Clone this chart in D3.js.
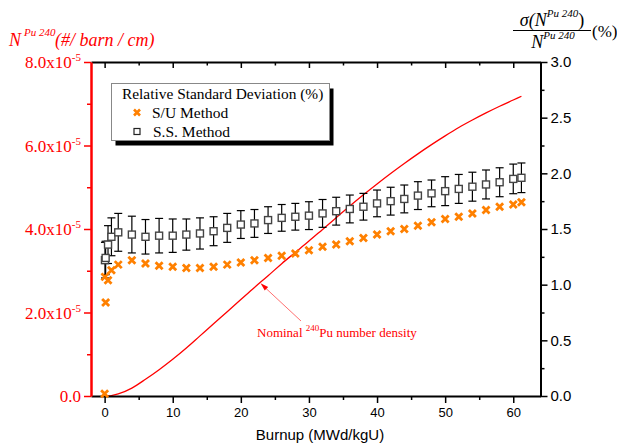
<!DOCTYPE html>
<html><head><meta charset="utf-8">
<script src="https://cdn.jsdelivr.net/npm/d3@7"></script>
<style>body{margin:0;background:#fff}svg{display:block}</style>
</head><body>
<svg id="c" width="617" height="446"></svg>
<script>
const burnup = [0, 0.05, 0.15, 0.5, 1, 2, 4, 6, 8, 10, 12, 14, 16, 18, 20, 22, 24, 26, 28, 30, 32, 34, 36, 38, 40, 42, 44, 46, 48, 50, 52, 54, 56, 58, 60, 61.2];
const suRSD = [0.02, 1.07, 0.84, 1.04, 1.13, 1.18, 1.22, 1.19, 1.17, 1.16, 1.15, 1.15, 1.16, 1.18, 1.20, 1.22, 1.24, 1.26, 1.28, 1.31, 1.34, 1.36, 1.39, 1.42, 1.45, 1.48, 1.50, 1.53, 1.56, 1.59, 1.61, 1.64, 1.67, 1.70, 1.72, 1.74];
const ssRSD = [null, 1.22, 1.24, 1.36, 1.43, 1.47, 1.45, 1.43, 1.44, 1.44, 1.45, 1.46, 1.48, 1.51, 1.54, 1.55, 1.58, 1.60, 1.61, 1.62, 1.64, 1.66, 1.68, 1.70, 1.73, 1.75, 1.77, 1.80, 1.82, 1.84, 1.86, 1.88, 1.90, 1.92, 1.95, 1.96];
const ssErr = [null, 0.16, 0.15, 0.17, 0.17, 0.17, 0.165, 0.155, 0.155, 0.15, 0.14, 0.14, 0.13, 0.13, 0.125, 0.125, 0.12, 0.12, 0.12, 0.125, 0.125, 0.125, 0.125, 0.12, 0.12, 0.125, 0.125, 0.125, 0.12, 0.13, 0.13, 0.13, 0.13, 0.13, 0.133, 0.133];
const nominalN = [0, 0, 0.0003e-5, 0.003e-5, 0.01e-5, 0.05e-5, 0.19e-5, 0.40e-5, 0.63e-5, 0.88e-5, 1.15e-5, 1.44e-5, 1.73e-5, 2.02e-5, 2.31e-5, 2.60e-5, 2.88e-5, 3.17e-5, 3.44e-5, 3.71e-5, 3.99e-5, 4.27e-5, 4.55e-5, 4.82e-5, 5.08e-5, 5.33e-5, 5.57e-5, 5.80e-5, 6.02e-5, 6.23e-5, 6.43e-5, 6.61e-5, 6.78e-5, 6.94e-5, 7.09e-5, 7.18e-5];
const xTicks = [0, 10, 20, 30, 40, 50, 60];
const xMinor = [5, 15, 25, 35, 45, 55];
const leftTicks = [0, 2e-5, 4e-5, 6e-5, 8e-5];
const leftMinor = [1e-5, 3e-5, 5e-5, 7e-5];
const rightTicks = [0, 0.5, 1.0, 1.5, 2.0, 2.5, 3.0];
const rightMinor = [0.25, 0.75, 1.25, 1.75, 2.25, 2.75];
const legendTitle = "Relative Standard Deviation (%)";
const seriesNames = ["S/U Method", "S.S. Method"];

const SERIF = "'Liberation Serif','Times New Roman',serif";
const SANS = "'Liberation Sans',Arial,sans-serif";
const RED = "#ff0000", ORANGE = "#ff8000";
const L = 91, R = 540.5, T = 62, B = 396;

const svg = d3.select("#c");
const x = d3.scaleLinear().domain([-2, 64]).range([L, R]);
const yL = d3.scaleLinear().domain([0, 8e-5]).range([B, T]);
const yR = d3.scaleLinear().domain([0, 3]).range([B, T]);

// nominal curve
const line = d3.line().x((d, i) => x(burnup[i])).y(d => yL(d)).curve(d3.curveMonotoneX);
svg.append("path").attr("d", line(nominalN)).attr("fill", "none").attr("stroke", RED).attr("stroke-width", 1.3);

function styleAxis(g, color, w) {
  g.select(".domain").attr("stroke", color).attr("stroke-width", w);
  g.selectAll(".tick line").attr("stroke", color).attr("stroke-width", 1.5);
}
// bottom
const gb = svg.append("g").attr("transform", `translate(0,${B})`)
  .call(d3.axisBottom(x).tickValues(xTicks).tickSize(7).tickSizeOuter(0).tickPadding(5));
styleAxis(gb, "#000", 2);
gb.selectAll("text").attr("font-family", SANS).attr("font-size", 13).attr("fill", "#000");
svg.append("g").attr("transform", `translate(0,${B})`)
  .call(d3.axisBottom(x).tickValues(xMinor).tickSize(4).tickFormat("").tickSizeOuter(0))
  .call(g => { g.select(".domain").remove(); g.selectAll("line").attr("stroke", "#000").attr("stroke-width", 1.5); });
// top
const gt = svg.append("g").attr("transform", `translate(0,${T})`)
  .call(d3.axisBottom(x).tickValues(xTicks).tickSize(6).tickFormat("").tickSizeOuter(0));
styleAxis(gt, "#000", 2);
svg.append("g").attr("transform", `translate(0,${T})`)
  .call(d3.axisBottom(x).tickValues(xMinor).tickSize(3.5).tickFormat("").tickSizeOuter(0))
  .call(g => { g.select(".domain").remove(); g.selectAll("line").attr("stroke", "#000").attr("stroke-width", 1.5); });
// right
const gr = svg.append("g").attr("transform", `translate(${R},0)`)
  .call(d3.axisRight(yR).tickValues(rightTicks).tickSize(7).tickSizeOuter(0).tickPadding(3).tickFormat(d3.format(".1f")));
styleAxis(gr, "#000", 2);
gr.selectAll("text").attr("font-family", SANS).attr("font-size", 15).attr("fill", "#000");
svg.append("g").attr("transform", `translate(${R},0)`)
  .call(d3.axisRight(yR).tickValues(rightMinor).tickSize(4).tickFormat("").tickSizeOuter(0))
  .call(g => { g.select(".domain").remove(); g.selectAll("line").attr("stroke", "#000").attr("stroke-width", 1.5); });

// error bars
const ss = burnup.map((b, i) => ({b, v: ssRSD[i], e: ssErr[i]})).filter(d => d.v != null);
const eb = svg.append("g").attr("stroke", "#000").attr("stroke-width", 1.2);
ss.forEach(d => {
  const xc = x(d.b), y1 = yR(d.v + d.e), y0 = yR(d.v - d.e);
  eb.append("line").attr("x1", xc).attr("x2", xc).attr("y1", y1).attr("y2", y0);
  eb.append("line").attr("x1", xc - 4).attr("x2", xc + 4).attr("y1", y1).attr("y2", y1);
  eb.append("line").attr("x1", xc - 4).attr("x2", xc + 4).attr("y1", y0).attr("y2", y0);
});
// squares
svg.append("g").selectAll("rect").data(ss).join("rect")
  .attr("x", d => x(d.b) - 3.5).attr("y", d => yR(d.v) - 3.5).attr("width", 7).attr("height", 7)
  .attr("fill", "#fff").attr("stroke", "#444").attr("stroke-width", 1.4);
// orange crosses
const cross = (s) => `M${-s},${-s}L${s},${s}M${-s},${s}L${s},${-s}`;
svg.append("g").selectAll("path").data(burnup.map((b, i) => ({b, v: suRSD[i]}))).join("path")
  .attr("transform", d => `translate(${x(d.b)},${yR(d.v)})`)
  .attr("d", cross(3.5)).attr("stroke", ORANGE).attr("stroke-width", 2.8).attr("fill", "none");

// left axis (red)
const gl = svg.append("g").attr("transform", `translate(${L},0)`)
  .call(d3.axisLeft(yL).tickValues(leftTicks).tickSize(7).tickSizeOuter(0).tickFormat(""));
styleAxis(gl, RED, 2.5);
svg.append("g").attr("transform", `translate(${L},0)`)
  .call(d3.axisLeft(yL).tickValues(leftMinor).tickSize(4).tickFormat("").tickSizeOuter(0))
  .call(g => { g.select(".domain").remove(); g.selectAll("line").attr("stroke", RED).attr("stroke-width", 1.5); });
leftTicks.forEach(v => {
  const t = svg.append("text").attr("x", 81).attr("y", yL(v) + 6).attr("text-anchor", "end")
    .attr("font-family", SERIF).attr("font-size", 17).attr("fill", RED);
  if (v === 0) { t.text("0.0"); }
  else {
    t.append("tspan").text((v / 1e-5).toFixed(1) + "x10");
    t.append("tspan").attr("dy", -7).attr("font-size", 11).text("-5");
  }
});

// left title
const lt = svg.append("text").attr("y", 46).attr("fill", RED).attr("font-family", SERIF)
  .attr("font-style", "italic").attr("font-size", 18);
lt.append("tspan").attr("x", 9).text("N");
lt.append("tspan").attr("x", 24).attr("dy", -10).attr("font-size", 11).text("Pu 240");
lt.append("tspan").attr("x", 55).attr("dy", 10).text("(#/ barn / cm)");

// right title (fraction)
const num = svg.append("text").attr("x", 552).attr("y", 26).attr("text-anchor", "middle")
  .attr("font-family", SERIF).attr("font-size", 18).attr("font-style", "italic").attr("fill", "#000");
num.append("tspan").text("σ(N");
num.append("tspan").attr("dy", -9).attr("font-size", 11).text("Pu 240");
num.append("tspan").attr("dy", 9).attr("font-style", "normal").text(")");
svg.append("line").attr("x1", 513).attr("x2", 591).attr("y1", 30.5).attr("y2", 30.5).attr("stroke", "#000").attr("stroke-width", 1);
const den = svg.append("text").attr("x", 553).attr("y", 48).attr("text-anchor", "middle")
  .attr("font-family", SERIF).attr("font-size", 18).attr("font-style", "italic").attr("fill", "#000");
den.append("tspan").text("N");
den.append("tspan").attr("dy", -9).attr("font-size", 11).text("Pu 240");
svg.append("text").attr("x", 592).attr("y", 37).attr("font-family", SERIF).attr("font-size", 17).attr("fill", "#000").text("(%)");

// x title
svg.append("text").attr("x", 320).attr("y", 440).attr("text-anchor", "middle")
  .attr("font-family", SANS).attr("font-size", 15).attr("fill", "#000").text("Burnup (MWd/kgU)");

// annotation
const ax = x(22.9), ay = yL(2.70e-5);
svg.append("line").attr("x1", 301).attr("y1", 321).attr("x2", ax + 2).attr("y2", ay + 2)
  .attr("stroke", RED).attr("stroke-width", 0.7).attr("opacity", 0.8);
const ang = Math.atan2(321 - ay, 301 - ax);
const hl = 8, hw = 2.5;
const p1 = [ax + Math.cos(ang) * hl - Math.sin(ang) * hw, ay + Math.sin(ang) * hl + Math.cos(ang) * hw];
const p2 = [ax + Math.cos(ang) * hl + Math.sin(ang) * hw, ay + Math.sin(ang) * hl - Math.cos(ang) * hw];
svg.append("path").attr("d", `M${ax},${ay}L${p1[0]},${p1[1]}L${p2[0]},${p2[1]}Z`).attr("fill", RED);
const an = svg.append("text").attr("x", 257).attr("y", 336.5).attr("font-family", SERIF).attr("font-size", 13).attr("fill", RED);
an.append("tspan").text("Nominal ");
an.append("tspan").attr("dy", -6).attr("font-size", 9).text("240");
an.append("tspan").attr("dy", 6).text("Pu number density");

// legend
svg.append("rect").attr("x", 115.5).attr("y", 88.5).attr("width", 218).attr("height", 57).attr("fill", "#000");
svg.append("rect").attr("x", 111.5).attr("y", 83.5).attr("width", 218).attr("height", 57)
  .attr("fill", "#fff").attr("stroke", "#888").attr("stroke-width", 1);
svg.append("text").attr("x", 122).attr("y", 98.5).attr("font-family", SERIF).attr("font-size", 15.4).attr("fill", "#000").text(legendTitle);
svg.append("path").attr("transform", "translate(137,112.5)").attr("d", cross(3)).attr("stroke", ORANGE).attr("stroke-width", 2.6);
svg.append("text").attr("x", 152).attr("y", 117.5).attr("font-family", SERIF).attr("font-size", 15.5).attr("fill", "#000").text(seriesNames[0]);
svg.append("rect").attr("x", 134).attr("y", 128.5).attr("width", 6).attr("height", 6).attr("fill", "#fff").attr("stroke", "#222").attr("stroke-width", 1.2);
svg.append("text").attr("x", 153).attr("y", 136.5).attr("font-family", SERIF).attr("font-size", 15.5).attr("fill", "#000").text(seriesNames[1]);
</script>
</body></html>
